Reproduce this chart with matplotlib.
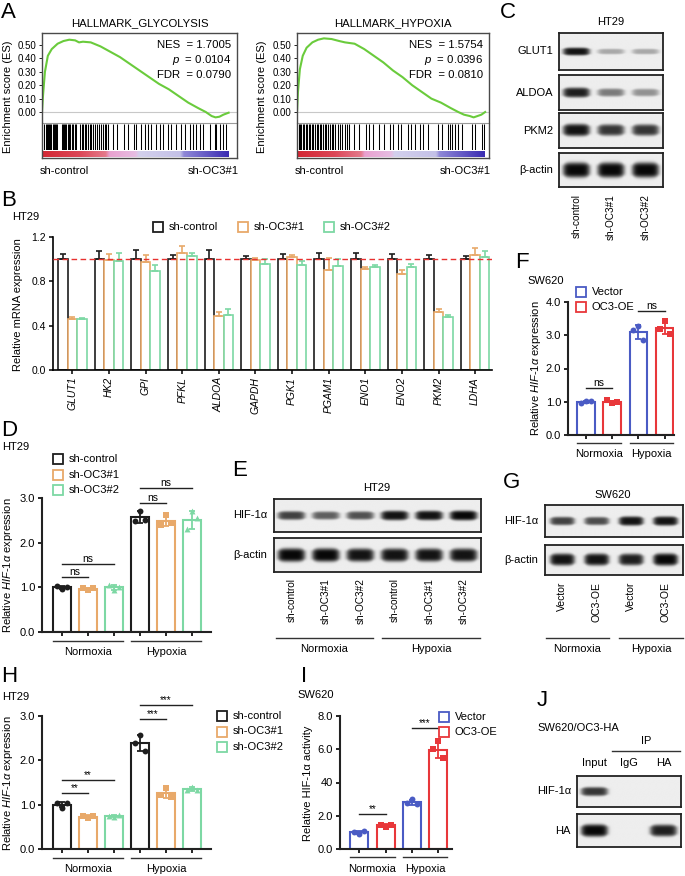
import numpy as np
import matplotlib
matplotlib.use('Agg')
import matplotlib.pyplot as plt
from matplotlib import transforms
from matplotlib.patches import Rectangle
from matplotlib.colors import LinearSegmentedColormap

plt.rcParams['font.family'] = ['Liberation Sans', 'DejaVu Sans']
plt.rcParams['mathtext.fontset'] = 'custom'
plt.rcParams['mathtext.rm'] = 'Liberation Sans'
plt.rcParams['mathtext.it'] = 'Liberation Sans:italic'
plt.rcParams['mathtext.bf'] = 'Liberation Sans:bold'

# ---------------- data ----------------
# A: GSEA
gly_rank = [0, 0.005, 0.015, 0.03, 0.05, 0.08, 0.11, 0.14, 0.17, 0.19, 0.21, 0.25, 0.3, 0.35,
            0.4, 0.45, 0.5, 0.55, 0.6, 0.65, 0.7, 0.75, 0.8, 0.84, 0.87, 0.89, 0.91, 0.93, 0.957]
gly_es = [0, 0.12, 0.30, 0.42, 0.47, 0.51, 0.53, 0.54, 0.535, 0.52, 0.525, 0.52, 0.49, 0.45,
          0.41, 0.36, 0.31, 0.26, 0.21, 0.17, 0.12, 0.07, 0.03, 0.0, -0.03, -0.04, -0.035, -0.02, -0.005]
gly_hits = [0.012, 0.018, 0.024, 0.03, 0.036, 0.042, 0.048, 0.054, 0.06, 0.066, 0.072, 0.078,
            0.1, 0.106, 0.112, 0.118, 0.125, 0.132, 0.138, 0.145, 0.152, 0.16, 0.168, 0.176,
            0.195, 0.203, 0.21, 0.218, 0.226, 0.235, 0.244, 0.252, 0.26, 0.27, 0.28, 0.29, 0.3,
            0.312, 0.322, 0.33, 0.34, 0.364, 0.384, 0.42, 0.44, 0.474, 0.483, 0.509, 0.526,
            0.543, 0.56, 0.586, 0.603, 0.62, 0.646, 0.663, 0.689, 0.714, 0.731, 0.757, 0.774,
            0.791, 0.808, 0.825, 0.86, 0.885, 0.894, 0.911, 0.928, 0.945]
gly_stats = ['1.7005', '0.0104', '0.0790']

hyp_rank = [0, 0.005, 0.015, 0.03, 0.05, 0.08, 0.11, 0.14, 0.18, 0.22, 0.25, 0.3, 0.35, 0.4,
            0.45, 0.5, 0.55, 0.6, 0.65, 0.7, 0.75, 0.8, 0.84, 0.87, 0.9, 0.92, 0.94, 0.96, 0.98]
hyp_es = [0, 0.15, 0.32, 0.42, 0.48, 0.52, 0.54, 0.55, 0.545, 0.53, 0.52, 0.51, 0.47, 0.42,
          0.37, 0.31, 0.26, 0.2, 0.15, 0.1, 0.07, 0.03, 0.0, -0.02, -0.03, -0.04, -0.03, -0.02, 0.0]
hyp_hits = [0.008, 0.016, 0.022, 0.03, 0.038, 0.045, 0.052, 0.06, 0.068, 0.076, 0.085, 0.094,
            0.102, 0.11, 0.118, 0.126, 0.135, 0.144, 0.152, 0.16, 0.17, 0.18, 0.19, 0.2, 0.212,
            0.224, 0.236, 0.248, 0.26, 0.272, 0.298, 0.324, 0.359, 0.377, 0.394, 0.429, 0.455,
            0.482, 0.499, 0.525, 0.543, 0.578, 0.595, 0.613, 0.639, 0.657, 0.683, 0.736, 0.753,
            0.788, 0.797, 0.806, 0.823, 0.841, 0.858, 0.911, 0.928, 0.963, 0.972]
hyp_stats = ['1.5754', '0.0396', '0.0810']

# B: qPCR
genes = ['GLUT1', 'HK2', 'GPI', 'PFKL', 'ALDOA', 'GAPDH', 'PGK1', 'PGAM1', 'ENO1', 'ENO2', 'PKM2', 'LDHA']
b_ctrl = [1.0, 1.0, 1.0, 1.0, 1.0, 1.0, 1.0, 1.0, 1.0, 1.0, 1.0, 1.0]
b_ctrl_err = [0.05, 0.07, 0.08, 0.04, 0.08, 0.03, 0.05, 0.06, 0.06, 0.05, 0.04, 0.03]
b_oc1 = [0.46, 0.99, 0.97, 1.06, 0.49, 0.99, 1.02, 0.90, 0.91, 0.87, 0.52, 1.04]
b_oc1_err = [0.02, 0.06, 0.07, 0.06, 0.03, 0.02, 0.02, 0.11, 0.02, 0.03, 0.03, 0.06]
b_oc2 = [0.46, 0.98, 0.89, 1.03, 0.50, 0.96, 0.95, 0.94, 0.93, 0.93, 0.48, 1.02]
b_oc2_err = [0.01, 0.08, 0.06, 0.03, 0.05, 0.04, 0.03, 0.06, 0.02, 0.03, 0.02, 0.05]

# C: western blot band intensities
c_rows = ['GLUT1', 'ALDOA', 'PKM2', 'β-actin']
c_lanes = ['sh-control', 'sh-OC3#1', 'sh-OC3#2']
c_bands = [[0.95, 0.3, 0.3], [0.9, 0.5, 0.4], [0.95, 0.8, 0.8], [1.0, 1.0, 1.0]]

# D: HIF-1a mRNA, HT29
sh_groups = ['sh-control', 'sh-OC3#1', 'sh-OC3#2']
conditions = ['Normoxia', 'Hypoxia']
d_norm = [[1.03, 0.96, 1.01], [0.99, 0.95, 0.98], [1.05, 0.95, 1.00]]
d_hyp = [[2.48, 2.72, 2.50], [2.40, 2.62, 2.43], [2.30, 2.70, 2.55]]

# E: HIF-1a blot HT29
e_rows = ['HIF-1α', 'β-actin']
e_lanes = ['sh-control', 'sh-OC3#1', 'sh-OC3#2', 'sh-control', 'sh-OC3#1', 'sh-OC3#2']
e_bands = [[0.75, 0.62, 0.68, 0.95, 0.95, 1.0], [1.0, 1.0, 0.95, 0.95, 0.95, 0.95]]

# F: HIF-1a mRNA, SW620
oe_groups = ['Vector', 'OC3-OE']
f_norm = [[0.97, 1.03, 1.01], [1.04, 0.97, 0.99]]
f_hyp = [[3.15, 3.28, 2.87], [3.18, 3.42, 3.05]]

# G: HIF-1a blot SW620
g_rows = ['HIF-1α', 'β-actin']
g_lanes = ['Vector', 'OC3-OE', 'Vector', 'OC3-OE']
g_bands = [[0.75, 0.7, 0.95, 0.95], [0.95, 0.95, 0.9, 1.0]]

# H: HIF-1a expression HT29
h_norm = [[1.03, 0.93, 1.04], [0.74, 0.70, 0.75], [0.75, 0.73, 0.76]]
h_hyp = [[2.40, 2.58, 2.22], [1.22, 1.38, 1.18], [1.32, 1.40, 1.33]]

# I: HIF-1a activity SW620
i_norm = [[1.02, 0.92, 1.06], [1.45, 1.35, 1.46]]
i_hyp = [[2.75, 3.0, 2.7], [6.0, 6.5, 5.45]]
i_ticklabels = ['0.0', '2.0', '40', '6.0', '8.0']

# J: Co-IP
j_rows = ['HIF-1α', 'HA']
j_lanes = ['Input', 'IgG', 'HA']
j_bands = [[0.8, 0.0, 0.0], [1.0, 0.0, 0.9]]

# ---------------- styling ----------------
BLACK = '#1e1e1e'
ORANGE = '#E8A96A'
GREEN = '#7DD8A4'
BLUE = '#4A5BC4'
RED = '#E8373A'
sh_colors = [BLACK, ORANGE, GREEN]
sh_markers = ['o', 's', '^']
oe_colors = [BLUE, RED]
oe_markers = ['o', 's']

W, H = 685, 876
fig = plt.figure(figsize=(W / 100, H / 100), dpi=100)
PX = transforms.Affine2D().scale(1 / W, -1 / H).translate(0, 1) + fig.transFigure


def add_ax(x0, y0, x1, y1):
    return fig.add_axes([x0 / W, 1 - y1 / H, (x1 - x0) / W, (y1 - y0) / H])


def txt(x, y, s, **kw):
    kw.setdefault('fontsize', 8)
    return fig.text(x, y, s, transform=PX, **kw)


def letter(x, y, s):
    txt(x, y, s, fontsize=16, ha='left', va='center')


def legend_item(x, y, color, label, fs=8):
    fig.add_artist(Rectangle((x, y - 5), 10, 10, transform=PX, fill=False,
                             edgecolor=color, linewidth=1.3))
    txt(x + 16, y, label, ha='left', va='center', fontsize=fs)


# ---------------- A ----------------
cmap_rank = LinearSegmentedColormap.from_list('rank', [
    (0.0, '#d32734'), (0.2, '#dc4757'), (0.34, '#e47a8b'), (0.36, '#e9a1cf'),
    (0.5, '#e6bde2'), (0.52, '#d3d0ec'), (0.74, '#c4c1e7'), (0.76, '#8f88d7'),
    (1.0, '#3a2cb2')])


def gsea(x0, x1, title, rank, es, hits, stats, cb_end, ylab_x):
    y0, ysep, yhit, y1 = 33, 123, 150, 158
    a = add_ax(x0, y0, x1, ysep)
    a.plot(rank, es, color='#6ACB3C', lw=1.5)
    a.axhline(0, color='#c8c8c8', lw=0.8, zorder=0)
    a.set_xlim(0, 1)
    a.set_ylim(-0.082, 0.59)
    a.set_xticks([])
    yt = [0, 0.1, 0.2, 0.3, 0.4, 0.5]
    a.set_yticks(yt)
    a.set_yticklabels(['%.2f' % v for v in yt], fontsize=7)
    a.tick_params(axis='y', length=2, width=0.6, pad=2)
    for s in ['top', 'left', 'right']:
        a.spines[s].set_visible(False)
    a.spines['bottom'].set_color('#9a9a9a')
    a.spines['bottom'].set_linewidth(0.8)
    lab = ['NES', '$p$', 'FDR']
    for k in range(3):
        a.text(0.97, 0.865 - k * 0.168, '%s  = %s' % (lab[k], stats[k]), transform=a.transAxes,
               ha='right', va='center', fontsize=8.2)
    h = add_ax(x0, ysep + 1, x1, yhit)
    h.vlines(hits, 0, 1, color='black', lw=0.75)
    h.set_xlim(0, 1)
    h.set_ylim(0, 1)
    h.axis('off')
    c = add_ax(x0, yhit + 1, x1, y1 - 1)
    c.imshow(np.linspace(0, 1, 256)[None, :], cmap=cmap_rank, aspect='auto',
             extent=(0, cb_end, 0, 1))
    c.set_xlim(0, 1)
    c.set_ylim(0, 1)
    c.axis('off')
    fr = add_ax(x0, y0, x1, y1)
    fr.patch.set_visible(False)
    fr.set_xticks([])
    fr.set_yticks([])
    for s in fr.spines.values():
        s.set_color('#4a4a4a')
        s.set_linewidth(1.0)
    txt((x0 + x1) / 2, 23, title, ha='center', va='center', fontsize=8.2)
    txt(x0 - 2, 171, 'sh-control', ha='left', va='center', fontsize=8)
    txt(x1 + 2, 171, 'sh-OC3#1', ha='right', va='center', fontsize=8)
    txt(ylab_x, 97, 'Enrichment score (ES)', rotation=90, ha='center', va='center', fontsize=8)


letter(1, 12, 'A')
gsea(42, 237, 'HALLMARK_GLYCOLYSIS', gly_rank, gly_es, gly_hits, gly_stats, 0.957, 8)
gsea(297, 489, 'HALLMARK_HYPOXIA', hyp_rank, hyp_es, hyp_hits, hyp_stats, 0.975, 262)

# ---------------- blots ----------------


def blot(box, levels, thick, wfrac=0.78):
    ax = add_ax(*box)
    n = len(levels)
    xs = np.linspace(0, n, 80 * n)
    ys = np.linspace(0, 1, 80)
    X, Y = np.meshgrid(xs, ys)
    dens = np.zeros_like(X)
    for i, lv in enumerate(levels):
        if lv <= 0:
            continue
        u = (X - (i + 0.5)) / (wfrac / 2)
        th = thick * (0.55 + 0.45 * lv) / 2 * (1 - 0.25 * np.clip(np.abs(u), 0, 1) ** 4)
        v = (Y - 0.5) / th
        dens += lv * np.exp(-np.abs(u) ** 6) * np.exp(-v ** 4)
    img = 0.93 - 0.9 * np.clip(dens, 0, 1)
    ax.imshow(img, cmap='gray', vmin=0, vmax=1, extent=(0, n, 0, 1), origin='lower',
              aspect='auto', interpolation='bilinear')
    ax.set_xlim(0, n)
    ax.set_ylim(0, 1)
    ax.set_xticks([])
    ax.set_yticks([])
    for s in ax.spines.values():
        s.set_linewidth(1.3)
        s.set_color('#222222')
    return ax


def lane_labels(ax, labels, ytop, fs=7.2):
    tr = transforms.blended_transform_factory(ax.transData, PX)
    for i, l in enumerate(labels):
        fig.text(i + 0.5, ytop, l, transform=tr, rotation=90, ha='center', va='top', fontsize=fs)


def group_line_px(x0, x1, y, label, ytext):
    fig.add_artist(plt.Line2D([x0, x1], [y, y], transform=PX, color='#333333', lw=1.0))
    txt((x0 + x1) / 2, ytext, label, ha='center', va='center', fontsize=8)


# C
letter(500, 12, 'C')
txt(611, 22, 'HT29', ha='center', va='center', fontsize=8)
c_boxes = [(559, 33, 663, 70), (559, 75, 663, 110), (559, 113, 663, 148), (559, 153, 663, 187)]
c_thick = [0.22, 0.3, 0.35, 0.45]
for k, name in enumerate(c_rows):
    axb = blot(c_boxes[k], c_bands[k], c_thick[k])
    txt(553, (c_boxes[k][1] + c_boxes[k][3]) / 2, name, ha='right', va='center', fontsize=8)
lane_labels(axb, c_lanes, 194)

# E
letter(232, 470, 'E')
txt(377, 488, 'HT29', ha='center', va='center', fontsize=8)
e_boxes = [(274, 499, 481, 532), (274, 538, 481, 572)]
e_thick = [0.3, 0.4]
for k, name in enumerate(e_rows):
    axb = blot(e_boxes[k], e_bands[k], e_thick[k], wfrac=0.8)
    txt(267, (e_boxes[k][1] + e_boxes[k][3]) / 2, name, ha='right', va='center', fontsize=8)
lane_labels(axb, e_lanes, 578)
group_line_px(276, 373, 638, conditions[0], 649)
group_line_px(382, 480, 638, conditions[1], 649)

# G
letter(503, 483, 'G')
txt(613, 495, 'SW620', ha='center', va='center', fontsize=8)
g_boxes = [(545, 505, 683, 537), (545, 545, 683, 575)]
g_thick = [0.3, 0.4]
for k, name in enumerate(g_rows):
    axb = blot(g_boxes[k], g_bands[k], g_thick[k], wfrac=0.72)
    txt(538, (g_boxes[k][1] + g_boxes[k][3]) / 2, name, ha='right', va='center', fontsize=8)
lane_labels(axb, g_lanes, 582, fs=7.5)
group_line_px(546, 609, 638, conditions[0], 649)
group_line_px(619, 683, 638, conditions[1], 649)

# J
letter(537, 700, 'J')
txt(537, 728, 'SW620/OC3-HA', ha='left', va='center', fontsize=8)
txt(646, 741, 'IP', ha='center', va='center', fontsize=8)
fig.add_artist(plt.Line2D([612, 680], [751, 751], transform=PX, color='#333333', lw=1.0))
j_boxes = [(577, 776, 681, 807), (577, 814, 681, 847)]
j_thick = [0.32, 0.38]
for k, name in enumerate(j_rows):
    axb = blot(j_boxes[k], j_bands[k], j_thick[k], wfrac=0.78)
    txt(571, (j_boxes[k][1] + j_boxes[k][3]) / 2, name, ha='right', va='center', fontsize=8)
trj = transforms.blended_transform_factory(axb.transData, PX)
for i, l in enumerate(j_lanes):
    fig.text(i + 0.5, 763, l, transform=trj, ha='center', va='center', fontsize=8)

# ---------------- B ----------------
letter(1, 200, 'B')
txt(12, 217, 'HT29', ha='left', va='center', fontsize=8)
axB = add_ax(53, 237, 492, 370)
xg = np.arange(len(genes))
bw = 0.26
for off, vals, errs, col in [(-bw, b_ctrl, b_ctrl_err, BLACK), (0, b_oc1, b_oc1_err, ORANGE),
                             (bw, b_oc2, b_oc2_err, GREEN)]:
    axB.bar(xg + off, vals, width=bw, facecolor='white', edgecolor=col, linewidth=1.2, zorder=2)
    axB.errorbar(xg + off, vals, yerr=[np.zeros(len(vals)), errs], fmt='none', ecolor=col,
                 elinewidth=1.2, capsize=2, capthick=1.2, zorder=3)
axB.axhline(1.0, color='#e8312f', ls=(0, (4, 2.5)), lw=1.0, zorder=5)
axB.set_xlim(-0.53, 11.46)
axB.set_ylim(0, 1.2)
axB.set_yticks([0, 0.4, 0.8, 1.2])
axB.set_yticklabels(['0.0', '0.4', '0.8', '1.2'], fontsize=7.5)
axB.set_xticks(xg)
axB.set_xticklabels(genes, rotation=90, fontstyle='italic', fontsize=7.5)
axB.tick_params(axis='both', length=3, width=1.1, pad=2)
for s in ['top', 'right']:
    axB.spines[s].set_visible(False)
for s in ['left', 'bottom']:
    axB.spines[s].set_linewidth(1.2)
txt(18, 305, 'Relative mRNA expression', rotation=90, ha='center', va='center', fontsize=8)
legend_item(153, 227, BLACK, sh_groups[0])
legend_item(238, 227, ORANGE, sh_groups[1])
legend_item(324, 227, GREEN, sh_groups[2])

# ---------------- dot-bar panels ----------------
OFFS = np.array([-0.19, 0.0, 0.19])


def dot_panel(box, xlim, ylim, yticks, yticklabels, groups, colors, markers):
    ax = add_ax(*box)
    pos = []
    x = 0
    for g in groups:
        for k, pts in enumerate(g):
            m = np.mean(pts)
            sd = np.std(pts, ddof=1)
            c = colors[k]
            ax.bar(x, m, width=0.68, facecolor='white', edgecolor=c, linewidth=1.5, zorder=2)
            ax.errorbar(x, m, yerr=sd, fmt='none', ecolor=c, elinewidth=1.3, capsize=2.5,
                        capthick=1.3, zorder=3)
            ax.scatter(x + OFFS, pts, marker=markers[k], s=18, color=c, zorder=4, linewidths=0)
            pos.append(x)
            x += 1
    ax.set_xlim(*xlim)
    ax.set_ylim(*ylim)
    ax.set_yticks(yticks)
    ax.set_yticklabels(yticklabels, fontsize=8)
    ax.set_xticks(pos)
    ax.set_xticklabels([])
    ax.tick_params(axis='both', length=3, width=1.2, pad=2)
    for s in ['top', 'right']:
        ax.spines[s].set_visible(False)
    for s in ['left', 'bottom']:
        ax.spines[s].set_linewidth(1.5)
        ax.spines[s].set_color('#222222')
    return ax


def sig(ax, x0, x1, y, s, fs=7.5):
    ax.plot([x0, x1], [y, y], color='#222222', lw=1.0, clip_on=False)
    ax.text((x0 + x1) / 2, y, s, ha='center', va='bottom', fontsize=fs)


def group_lines(ax, spans, ypx, ytext):
    tr = transforms.blended_transform_factory(ax.transData, PX)
    for (a, b), lab in zip(spans, conditions):
        ax.add_artist(plt.Line2D([a - 0.34, b + 0.34], [ypx, ypx], transform=tr,
                                 color='#333333', lw=1.0, clip_on=False))
        fig.text((a + b) / 2, ytext, lab, transform=tr, ha='center', va='center', fontsize=8)


# D
letter(1, 430, 'D')
txt(2, 447, 'HT29', ha='left', va='center', fontsize=8)
axD = dot_panel((42, 498, 211, 632), (-0.77, 5.73), (0, 3.0), [0, 1, 2, 3],
                ['0.0', '1.0', '2.0', '3.0'], [d_norm, d_hyp], sh_colors, sh_markers)
sig(axD, 0, 1, 1.24, 'ns')
sig(axD, 0, 2, 1.53, 'ns')
sig(axD, 3, 4, 2.89, 'ns')
sig(axD, 3, 5, 3.22, 'ns')
group_lines(axD, [(0, 2), (3, 5)], 641, 652)
txt(8, 565, 'Relative $\\mathit{HIF}$-$\\mathit{1\\alpha}$ expression', rotation=90,
    ha='center', va='center', fontsize=8)
for k in range(3):
    legend_item(53, 459 + 15.5 * k, sh_colors[k], sh_groups[k])

# H
letter(1, 677, 'H')
txt(2, 697, 'HT29', ha='left', va='center', fontsize=8)
axH = dot_panel((42, 716, 211, 849), (-0.77, 5.73), (0, 3.0), [0, 1, 2, 3],
                ['0.0', '1.0', '2.0', '3.0'], [h_norm, h_hyp], sh_colors, sh_markers)
sig(axH, 0, 1, 1.26, '**', fs=7)
sig(axH, 0, 2, 1.56, '**', fs=7)
sig(axH, 3, 4, 2.93, '***', fs=7)
sig(axH, 3, 5, 3.25, '***', fs=7)
group_lines(axH, [(0, 2), (3, 5)], 858, 869)
txt(8, 783, 'Relative $\\mathit{HIF}$-$\\mathit{1\\alpha}$ expression', rotation=90,
    ha='center', va='center', fontsize=8)
for k in range(3):
    legend_item(217, 716 + 15.5 * k, sh_colors[k], sh_groups[k])

# F
letter(515, 262, 'F')
txt(527, 281, 'SW620', ha='left', va='center', fontsize=8)
axF = dot_panel((568, 302, 674, 435), (-0.69, 3.36), (0, 4.0), [0, 1, 2, 3, 4],
                ['0.0', '1.0', '2.0', '3.0', '4.0'], [f_norm, f_hyp], oe_colors, oe_markers)
sig(axF, 0, 1, 1.41, 'ns')
sig(axF, 2, 3, 3.72, 'ns')
group_lines(axF, [(0, 1), (2, 3)], 443, 454)
txt(536, 368, 'Relative $\\mathit{HIF}$-$\\mathit{1\\alpha}$ expression', rotation=90,
    ha='center', va='center', fontsize=8)
legend_item(576, 292, BLUE, oe_groups[0])
legend_item(576, 307, RED, oe_groups[1])

# I
letter(301, 677, 'I')
txt(297, 695, 'SW620', ha='left', va='center', fontsize=8)
axI = dot_panel((340, 716, 452, 849), (-0.74, 3.53), (0, 8.0), [0, 2, 4, 6, 8],
                i_ticklabels, [i_norm, i_hyp], oe_colors, oe_markers)
sig(axI, 0, 1, 2.1, '**', fs=7)
sig(axI, 2, 3, 7.3, '***', fs=7)
group_lines(axI, [(0, 1), (2, 3)], 857, 869)
txt(308, 783, 'Relative HIF-1α activity', rotation=90, ha='center', va='center', fontsize=8)
legend_item(439, 717, BLUE, oe_groups[0])
legend_item(439, 732, RED, oe_groups[1])

fig.savefig('out.png', dpi=100)
